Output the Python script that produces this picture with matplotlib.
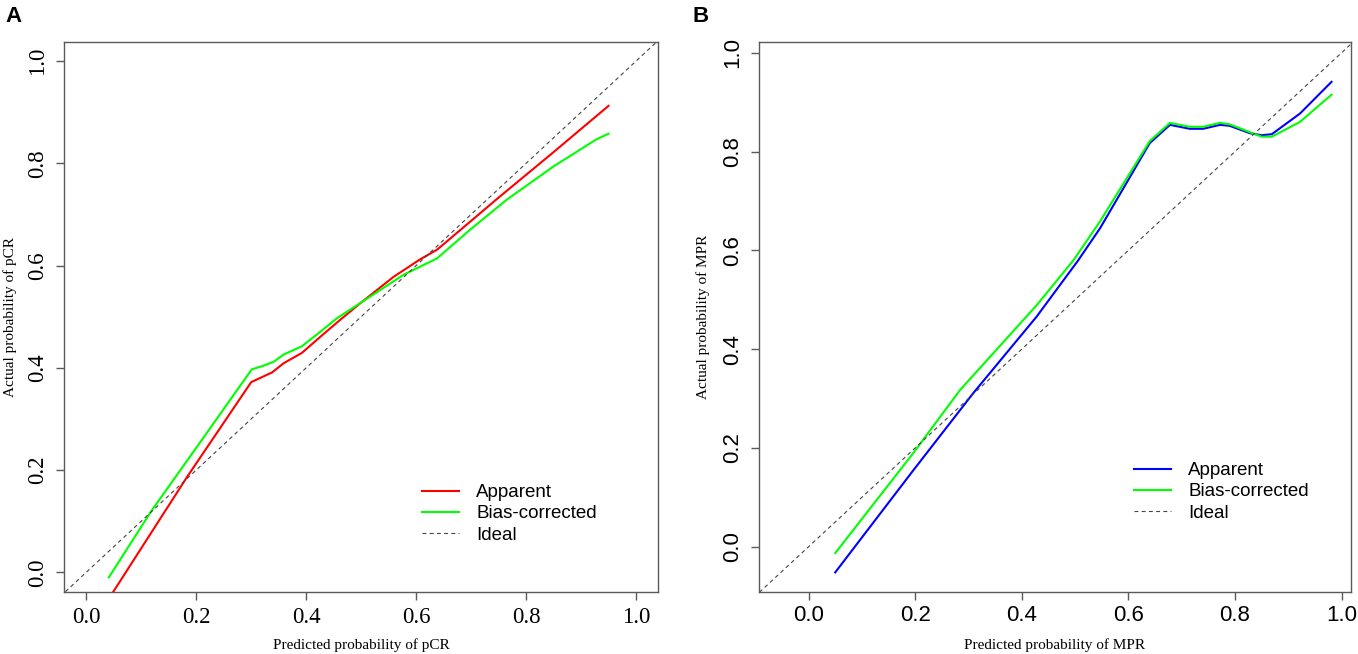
import matplotlib
matplotlib.use('Agg')
import matplotlib.pyplot as plt

# panel A: pCR calibration
a_app_x = [0.045, 0.183, 0.300, 0.338, 0.359, 0.392, 0.425, 0.462, 0.498, 0.559, 0.607, 0.638, 0.750, 0.850, 0.950]
a_app_y = [-0.045, 0.186, 0.372, 0.391, 0.409, 0.429, 0.460, 0.494, 0.526, 0.578, 0.612, 0.631, 0.733, 0.822, 0.9125]
a_bc_x = [0.041, 0.119, 0.201, 0.301, 0.322, 0.341, 0.359, 0.392, 0.425, 0.456, 0.516, 0.577, 0.638, 0.698,
          0.765, 0.850, 0.928, 0.950]
a_bc_y = [-0.010, 0.121, 0.245, 0.397, 0.404, 0.412, 0.426, 0.442, 0.470, 0.497, 0.539, 0.582, 0.614, 0.670,
          0.729, 0.794, 0.847, 0.858]

# panel B: MPR calibration
b_app_x = [0.050, 0.196, 0.309, 0.428, 0.506, 0.547, 0.640, 0.678, 0.715, 0.740, 0.772, 0.790, 0.828, 0.850,
           0.869, 0.922, 0.981]
b_app_y = [-0.052, 0.154, 0.311, 0.466, 0.580, 0.645, 0.817, 0.854, 0.846, 0.846, 0.854, 0.852, 0.837, 0.833,
           0.835, 0.877, 0.941]
b_bc_x = [0.050, 0.196, 0.284, 0.428, 0.497, 0.547, 0.640, 0.678, 0.715, 0.740, 0.772, 0.790, 0.828, 0.850,
          0.869, 0.922, 0.981]
b_bc_y = [-0.013, 0.189, 0.317, 0.489, 0.580, 0.659, 0.821, 0.858, 0.850, 0.850, 0.858, 0.855, 0.839, 0.830,
          0.830, 0.860, 0.915]

ticks = [0.0, 0.2, 0.4, 0.6, 0.8, 1.0]
tick_labels = ['0.0', '0.2', '0.4', '0.6', '0.8', '1.0']
legend_labels = ['Apparent', 'Bias-corrected', 'Ideal']

W, H = 1358, 654
SERIF = 'Liberation Serif'
SANS = 'Liberation Sans'
FRAME = '#5a5a5a'


def px_box(left, top, right, bottom):
    return [left / W, 1 - bottom / H, (right - left) / W, (bottom - top) / H]


def setup_axes(ax, xlim, ylim, tick_font, tick_size, xpad, ypad):
    ax.set_xlim(xlim)
    ax.set_ylim(ylim)
    ax.set_xticks(ticks)
    ax.set_yticks(ticks)
    ax.set_xticklabels(tick_labels, family=tick_font, fontsize=tick_size)
    ax.set_yticklabels(tick_labels, family=tick_font, fontsize=tick_size, rotation=90, va='center')
    ax.tick_params(axis='both', direction='out', length=5.5, width=1.0, color=FRAME)
    ax.tick_params(axis='x', pad=xpad)
    ax.tick_params(axis='y', pad=ypad)
    for s in ax.spines.values():
        s.set_color(FRAME)
        s.set_linewidth(1.0)


def add_legend(ax, handles, x, y):
    ax.legend(handles, legend_labels, loc='upper left', bbox_to_anchor=(x / W, 1 - y / H),
              bbox_transform=fig.transFigure, frameon=False, borderpad=0, borderaxespad=0,
              handlelength=1.95, handletextpad=0.95, labelspacing=0.22,
              prop={'family': SANS, 'size': 13.5})


fig = plt.figure(figsize=(W / 100, H / 100), dpi=100)

# ---- A ----
axA = fig.add_axes(px_box(64.3, 41.7, 658, 591.7))
lA1, = axA.plot(a_app_x, a_app_y, color='#ff0000', lw=1.5)
lA2, = axA.plot(a_bc_x, a_bc_y, color='#00ff00', lw=1.5)
lA3 = axA.axline((0, 0), (1, 1), color='#444444', lw=0.8, dashes=(3.5, 3))
setup_axes(axA, (-0.04, 1.04), (-0.038, 1.038), SERIF, 16.5, 5.5, 6.5)
axA.set_xlabel('Predicted probability of pCR', family=SERIF, fontsize=11)
axA.set_ylabel('Actual probability of pCR', family=SERIF, fontsize=11)
axA.xaxis.set_label_coords(0.5, -(645 - 591.7) / 550)
axA.xaxis.label.set_va('center')
axA.yaxis.set_label_coords((10 - 64.3) / 593.7, 0.5)
axA.yaxis.label.set_va('center')
add_legend(axA, [lA1, lA2, lA3], 422, 484)

# ---- B ----
axB = fig.add_axes(px_box(759, 41.5, 1350.7, 592.3))
lB1, = axB.plot(b_app_x, b_app_y, color='#0000ff', lw=1.5)
lB2, = axB.plot(b_bc_x, b_bc_y, color='#00ff00', lw=1.5)
lB3 = axB.axline((0, 0), (1, 1), color='#444444', lw=0.8, dashes=(3.5, 3))
setup_axes(axB, (-0.093, 1.017), (-0.0923, 1.0227), SANS, 16, 3.8, 6.0)
axB.set_xlabel('Predicted probability of MPR', family=SERIF, fontsize=11)
axB.set_ylabel('Actual probability of MPR', family=SERIF, fontsize=11)
axB.xaxis.set_label_coords(0.5, -(645 - 592.3) / 550.8)
axB.xaxis.label.set_va('center')
axB.yaxis.set_label_coords((703 - 759) / 591.7, 0.5)
axB.yaxis.label.set_va('center')
add_legend(axB, [lB1, lB2, lB3], 1134, 462)

fig.text(5 / W, 1 - 6 / H, 'A', family=SANS, fontweight='bold', fontsize=16, ha='left', va='top')
fig.text(692 / W, 1 - 6 / H, 'B', family=SANS, fontweight='bold', fontsize=16, ha='left', va='top')

fig.savefig('out.png', dpi=100)
